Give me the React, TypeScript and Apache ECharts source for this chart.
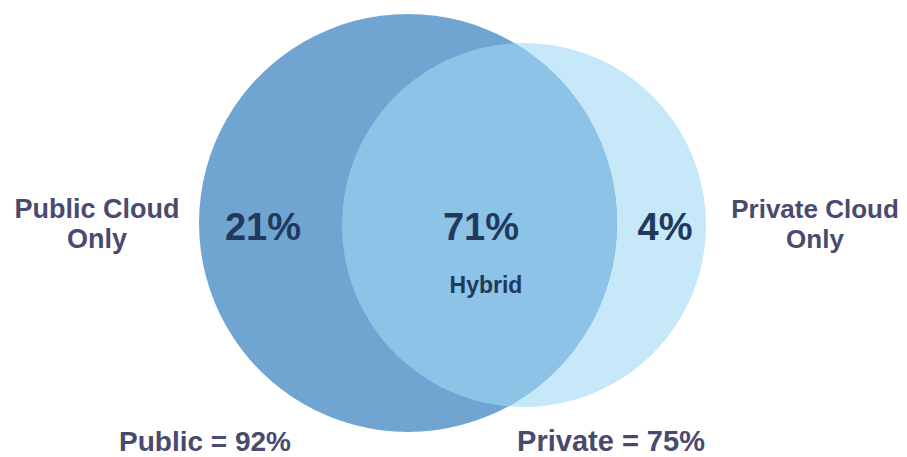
import React, { useEffect, useRef } from "react";
import * as echarts from "echarts";

// ---- data ----
const setNames = ["Public", "Private"];
const setTotals = [92, 75];
const regionNames = ["Public Cloud\nOnly", "Hybrid", "Private Cloud\nOnly"];
const regionValues = [21, 71, 4];

// ---- layout (pixel space of the hidden axes) ----
const W = 907;
const H = 457;
const circleLayout = [
  { cx: 408, cy: 223, r: 209 },
  { cx: 524, cy: 225, r: 182 },
];
const COLORS = {
  publicOnly: "#70a4d1",
  hybrid: "#8cc3e6",
  privateOnly: "#c6e8f9",
  value: "#1f3a5c",
  label: "#4a4a6e",
};
const FONT = "'Liberation Sans', Arial, Helvetica, sans-serif";

function lensPoints(
  c1: { x: number; y: number; r: number },
  c2: { x: number; y: number; r: number }
): number[][] {
  const dx = c2.x - c1.x;
  const dy = c2.y - c1.y;
  const d = Math.sqrt(dx * dx + dy * dy);
  const a = (d * d + c1.r * c1.r - c2.r * c2.r) / (2 * d);
  const h = Math.sqrt(Math.max(c1.r * c1.r - a * a, 0));
  const ex = dx / d;
  const ey = dy / d;
  const mx = c1.x + a * ex;
  const my = c1.y + a * ey;
  const pA = [mx - h * -ey, my - h * ex]; // top
  const pB = [mx + h * -ey, my + h * ex]; // bottom
  const ang = (c: any, p: number[]) => Math.atan2(p[1] - c.y, p[0] - c.x);
  const pts: number[][] = [];
  const N = 120;
  let s2 = ang(c2, pA);
  let e2 = ang(c2, pB);
  if (s2 < 0) s2 += 2 * Math.PI;
  if (e2 < 0) e2 += 2 * Math.PI;
  if (e2 > s2) e2 -= 2 * Math.PI;
  for (let i = 0; i <= N; i++) {
    const t = s2 + ((e2 - s2) * i) / N;
    pts.push([c2.x + c2.r * Math.cos(t), c2.y + c2.r * Math.sin(t)]);
  }
  let s1 = ang(c1, pB);
  let e1 = ang(c1, pA);
  if (e1 > s1) e1 -= 2 * Math.PI;
  for (let i = 0; i <= N; i++) {
    const t = s1 + ((e1 - s1) * i) / N;
    pts.push([c1.x + c1.r * Math.cos(t), c1.y + c1.r * Math.sin(t)]);
  }
  return pts;
}

function txt(x: number, y: number, text: string, font: string, fill: string, lineHeight?: number) {
  return {
    type: "text",
    x,
    y,
    z: 100,
    zlevel: 1,
    silent: true,
    style: {
      text,
      font,
      fill,
      lineHeight,
      align: "center",
      verticalAlign: "middle",
    },
  };
}

export default function App() {
  const ref = useRef<HTMLDivElement>(null);

  useEffect(() => {
    if (!ref.current) return;
    const chart = echarts.init(ref.current, undefined, { renderer: "svg" });

    // draw order: private circle, public circle, hybrid lens
    const shapes = [
      { kind: "circle", set: 1, value: setTotals[1] },
      { kind: "circle", set: 0, value: setTotals[0] },
      { kind: "lens", set: -1, value: regionValues[1] },
    ];

    const toPx = (api: any, i: number) => {
      const c = circleLayout[i];
      const p = api.coord([c.cx, c.cy]);
      const r = api.size([c.r, 0])[0];
      return { x: p[0], y: p[1], r };
    };

    const option: any = {
      animation: false,
      backgroundColor: "#ffffff",
      grid: { left: 0, right: 0, top: 0, bottom: 0 },
      xAxis: { type: "value", min: 0, max: W, show: false },
      yAxis: { type: "value", min: 0, max: H, inverse: true, show: false },
      series: [
        {
          type: "custom",
          coordinateSystem: "cartesian2d",
          silent: true,
          z: 1,
          data: shapes.map((s, i) => [i, s.value]),
          renderItem: (params: any, api: any) => {
            const idx = api.value(0);
            const s = shapes[idx];
            if (s.kind === "circle") {
              const c = toPx(api, s.set);
              return {
                type: "circle",
                shape: { cx: c.x, cy: c.y, r: c.r },
                style: {
                  fill: s.set === 0 ? COLORS.publicOnly : COLORS.privateOnly,
                },
              };
            }
            const pts = lensPoints(toPx(api, 0), toPx(api, 1));
            return {
              type: "polygon",
              shape: { points: pts },
              style: { fill: COLORS.hybrid },
            };
          },
        },
      ],
      graphic: {
        elements: [
          txt(263, 227, regionValues[0] + "%", `bold 38px ${FONT}`, COLORS.value),
          txt(481, 227, regionValues[1] + "%", `bold 38px ${FONT}`, COLORS.value),
          txt(665, 227, regionValues[2] + "%", `bold 38px ${FONT}`, COLORS.value),
          txt(486, 285, regionNames[1], `bold 23px ${FONT}`, COLORS.value),
          txt(97, 224, regionNames[0], `bold 27px ${FONT}`, COLORS.label, 30),
          txt(815, 224, regionNames[2], `bold 26px ${FONT}`, COLORS.label, 30),
          txt(205, 441, `${setNames[0]} = ${setTotals[0]}%`, `bold 28px ${FONT}`, COLORS.label),
          txt(611, 441, `${setNames[1]} = ${setTotals[1]}%`, `bold 29px ${FONT}`, COLORS.label),
        ],
      },
    };

    chart.setOption(option);
    return () => chart.dispose();
  }, []);

  return (
    <div
      ref={ref}
      style={{ position: "absolute", left: 0, top: 0, width: W, height: H }}
    />
  );
}
